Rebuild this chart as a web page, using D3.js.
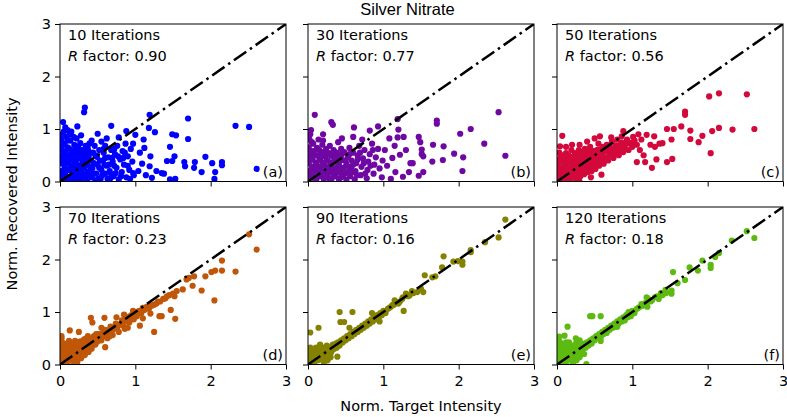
<!DOCTYPE html>
<html><head><meta charset="utf-8">
<script src="https://cdn.jsdelivr.net/npm/d3@7"></script>
<style>body{margin:0;background:#fff}svg{display:block}text{font-family:"DejaVu Sans",sans-serif;fill:#000}</style>
</head><body>
<svg id="chart" width="787" height="417"></svg>
<script>
const title = "Silver Nitrate";
const xLabel = "Norm. Target Intensity";
const yLabel = "Norm. Recovered Intensity";
const iterations = [10, 30, 50, 70, 90, 120];
const rFactors = ["0.90", "0.77", "0.56", "0.23", "0.16", "0.18"];
const panelTags = ["(a)", "(b)", "(c)", "(d)", "(e)", "(f)"];
const colors = ["#0000ff", "#6f08a3", "#d3083b", "#c05608", "#848200", "#5cba10"];
const ticks = [0, 1, 2, 3];

const pointsA = [[0.01,0.05],[0.02,0.2],[0.01,0.35],[0.02,0.5],[0.01,0.65],[0.02,0.8],[0.03,0.9],[0.04,0.72],
[0.06,0.02],[0.07,0.15],[0.06,0.28],[0.08,0.42],[0.07,0.57],[0.06,0.7],[0.09,0.85],
[0.11,0.06],[0.12,0.22],[0.11,0.35],[0.13,0.5],[0.12,0.63],[0.14,0.78],
[0.16,0.03],[0.17,0.14],[0.16,0.3],[0.18,0.44],[0.17,0.58],[0.19,0.7],
[0.21,0.08],[0.22,0.24],[0.21,0.38],[0.23,0.52],[0.24,0.66],[0.22,0.82],
[0.26,0.04],[0.27,0.17],[0.26,0.31],[0.28,0.46],[0.29,0.6],[0.27,0.73],
[0.31,0.1],[0.32,0.26],[0.31,0.4],[0.33,0.55],[0.34,0.68],
[0.36,0.03],[0.37,0.19],[0.36,0.33],[0.38,0.48],[0.37,0.62],[0.39,0.72],
[0.42,0.08],[0.43,0.25],[0.41,0.4],[0.44,0.55],[0.46,0.68],
[0.48,0.15],[0.5,0.32],[0.49,0.47],[0.52,0.6],[0.51,0.05],
[0.55,0.22],[0.57,0.4],[0.56,0.12],[0.58,0.55],[0.6,0.68],
[0.62,0.3],[0.63,0.05],[0.64,0.46],[0.66,0.2],[0.68,0.6],
[0.7,0.38],[0.71,0.1],[0.73,0.52],[0.75,0.26],[0.76,0.68],
[0.78,0.04],[0.8,0.42],[0.82,0.18],[0.83,0.58],[0.85,0.32],
[0.87,0.72],[0.88,0.08],[0.9,0.48],[0.92,0.22],[0.94,0.62],[0.96,0.38],[0.98,0.12],
[0.04,1.13],[0.07,1.03],[0.15,0.95],[0.23,1.05],[0.33,1.41],[0.32,1.32],[0.5,0.91],[0.68,1.06],[0.88,0.96],[0.1,0.98],[0.28,0.88],[0.42,0.78],[0.62,0.82],[0.78,0.84],[0.55,0.76],
[1.0,0.89],[0.97,0.72],[0.97,0.16],[1.11,0.8],[1.12,0.64],[1.18,1.02],[1.19,1.27],[1.26,0.94],[1.2,0.48],[1.09,0.34],[1.19,0.29],[1.28,0.2],[1.35,0.16],[1.38,0.15],[1.22,0.07],[1.46,0.04],[1.53,0.05],[1.49,0.9],[1.54,0.88],[1.46,0.66],[1.52,0.48],[1.42,0.39],[1.49,0.39],[1.65,0.37],[1.66,0.29],[1.79,0.37],[1.78,0.26],[1.93,0.47],[1.88,0.18],[2.02,0.35],[2.06,0.18],[2.05,0.05],[2.15,0.37],[2.15,0.31],[1.7,1.2],[1.7,0.81],[2.33,1.06],[2.51,1.04],[2.61,0.24],[1.06,0.55],[1.04,0.2],[1.14,0.12],
[0.03,0.12],[0.03,0.42],[0.04,0.58],[0.05,0.08],[0.05,0.35],[0.09,0.22],[0.09,0.5],[0.1,0.65],[0.1,0.78],[0.14,0.1],[0.14,0.28],[0.15,0.42],[0.15,0.56],[0.19,0.2],[0.19,0.36],[0.2,0.5],[0.2,0.62],[0.24,0.12],[0.24,0.3],[0.25,0.44],[0.25,0.58],[0.29,0.06],[0.29,0.22],[0.3,0.36],[0.3,0.5],[0.34,0.14],[0.34,0.32],[0.35,0.45],[0.35,0.6],[0.39,0.1],[0.4,0.28],[0.4,0.55],[0.44,0.15],[0.45,0.35],[0.47,0.5],[0.53,0.4],[0.54,0.05],[0.6,0.15],[0.6,0.45],[0.65,0.32],[0.67,0.06],[0.72,0.62],[0.74,0.16],[0.77,0.48],[0.86,0.55],[0.9,0.3],[0.1,0.44],[0.22,0.02],[0.05,0.95],[0.18,0.85],[0.13,0.9],
[0.47,0.02],[0.52,0.26],[0.59,0.32],[0.69,0.45],[0.72,0.3],[0.81,0.1],[0.84,0.45],[0.93,0.05],[0.68,0.14],[0.58,0.62]];

const pointsB = [[0.01,0.05],[0.02,0.2],[0.01,0.35],[0.02,0.5],[0.01,0.65],[0.02,0.8],[0.03,0.9],
[0.06,0.1],[0.07,0.27],[0.06,0.42],[0.08,0.58],[0.07,0.72],
[0.11,0.03],[0.12,0.18],[0.11,0.34],[0.13,0.5],[0.12,0.64],[0.14,0.8],
[0.16,0.1],[0.17,0.26],[0.16,0.42],[0.18,0.56],[0.19,0.7],
[0.21,0.04],[0.22,0.18],[0.21,0.32],[0.23,0.47],[0.24,0.62],
[0.26,0.1],[0.27,0.25],[0.26,0.4],[0.28,0.54],[0.29,0.68],
[0.31,0.03],[0.32,0.17],[0.31,0.32],[0.33,0.47],[0.34,0.6],
[0.36,0.1],[0.37,0.25],[0.36,0.4],[0.38,0.55],
[0.41,0.04],[0.42,0.18],[0.41,0.33],[0.43,0.48],[0.44,0.62],
[0.46,0.1],[0.47,0.26],[0.46,0.41],[0.48,0.56],
[0.51,0.03],[0.52,0.18],[0.51,0.33],[0.53,0.47],[0.55,0.64],
[0.56,0.1],[0.57,0.26],[0.58,0.4],[0.6,0.55],
[0.62,0.04],[0.63,0.2],[0.64,0.35],[0.66,0.5],[0.68,0.68],
[0.7,0.12],[0.71,0.28],[0.73,0.44],[0.75,0.6],
[0.78,0.06],[0.79,0.22],[0.8,0.38],[0.82,0.52],[0.85,0.72],
[0.87,0.15],[0.88,0.32],[0.9,0.46],[0.93,0.62],[0.95,0.25],[0.98,0.08],[0.99,0.4],
[0.09,1.27],[0.31,1.13],[0.33,1.08],[0.61,1.03],[0.82,0.97],[0.93,1.05],[1.19,1.19],[0.04,0.98],[0.2,0.9],[0.45,0.82],[0.6,0.85],[0.72,0.8],[0.4,0.75],
[1.02,0.6],[1.05,0.3],[1.08,0.82],[1.12,0.45],[1.16,0.18],[1.19,0.84],[1.2,0.99],[1.22,0.51],[1.26,0.09],[1.27,0.85],[1.34,0.18],[1.36,0.35],[1.39,0.35],[1.47,0.11],[1.47,0.85],[1.49,0.75],[1.51,0.61],[1.51,0.52],[1.53,0.48],[1.53,0.18],[1.65,0.38],[1.66,0.7],[1.71,1.16],[1.71,1.1],[1.79,0.41],[1.8,0.67],[1.94,0.53],[2.02,0.91],[2.05,0.2],[2.06,0.46],[2.16,1.0],[2.34,0.72],[2.53,1.32],[2.62,0.49],[1.1,0.05],[1.3,0.6],[1.15,0.68],
[0.03,0.12],[0.03,0.42],[0.04,0.58],[0.05,0.28],[0.05,0.75],[0.09,0.05],[0.09,0.2],[0.09,0.5],[0.1,0.36],[0.14,0.1],[0.14,0.28],[0.15,0.45],[0.15,0.6],[0.19,0.18],[0.19,0.36],[0.2,0.5],[0.2,0.78],[0.24,0.1],[0.24,0.28],[0.25,0.4],[0.25,0.55],[0.29,0.04],[0.29,0.18],[0.3,0.36],[0.3,0.5],[0.34,0.1],[0.34,0.25],[0.35,0.38],[0.35,0.52],[0.39,0.17],[0.4,0.3],[0.4,0.45],[0.44,0.08],[0.45,0.24],[0.45,0.52],[0.49,0.15],[0.5,0.4],[0.54,0.28],[0.55,0.52],[0.59,0.18],[0.6,0.32],[0.65,0.12],[0.66,0.42],[0.69,0.55],[0.74,0.35],[0.76,0.15],[0.83,0.3],[0.86,0.6]];

const pointsC = [[0.01,0.05],[0.02,0.18],[0.01,0.3],[0.02,0.42],[0.03,0.55],[0.04,0.67],[0.07,0.87],
[0.06,0.02],[0.07,0.12],[0.06,0.25],[0.08,0.37],[0.07,0.5],
[0.11,0.06],[0.12,0.18],[0.11,0.3],[0.13,0.42],[0.12,0.54],
[0.16,0.02],[0.17,0.12],[0.16,0.24],[0.18,0.36],[0.17,0.48],[0.19,0.6],
[0.21,0.07],[0.22,0.18],[0.21,0.3],[0.23,0.42],[0.24,0.54],
[0.26,0.05],[0.27,0.14],[0.26,0.26],[0.28,0.37],[0.27,0.49],[0.29,0.6],
[0.31,0.1],[0.32,0.22],[0.31,0.33],[0.33,0.45],[0.34,0.56],
[0.36,0.14],[0.37,0.26],[0.36,0.38],[0.38,0.5],[0.37,0.62],
[0.41,0.18],[0.42,0.3],[0.41,0.42],[0.43,0.54],[0.44,0.66],
[0.46,0.2],[0.47,0.34],[0.46,0.46],[0.48,0.58],
[0.51,0.24],[0.52,0.36],[0.51,0.48],[0.53,0.6],[0.55,0.72],
[0.56,0.3],[0.57,0.42],[0.58,0.54],[0.6,0.66],
[0.62,0.34],[0.63,0.46],[0.64,0.58],[0.66,0.7],
[0.68,0.4],[0.7,0.52],[0.71,0.64],[0.73,0.76],
[0.75,0.45],[0.76,0.57],[0.78,0.69],[0.8,0.8],
[0.82,0.5],[0.84,0.62],[0.86,0.74],[0.88,0.56],[0.9,0.68],[0.93,0.8],[0.95,0.6],[0.97,0.72],[1.0,0.66],[1.03,0.78],[1.06,0.7],[0.86,0.86],[0.59,0.13],[0.3,0.0],[0.45,0.08],
[0.57,0.86],[0.88,0.96],[0.72,0.84],[0.2,0.7],[0.4,0.76],[0.3,0.7],[0.12,0.66],[0.5,0.82],
[1.01,0.85],[1.06,0.37],[1.12,0.8],[1.17,0.37],[1.19,0.89],[1.24,0.7],[1.26,0.26],[1.29,0.86],[1.32,0.42],[1.36,0.72],[1.4,0.73],[1.46,0.37],[1.46,1.0],[1.55,1.0],[1.52,0.8],[1.53,0.43],[1.65,1.05],[1.7,1.33],[1.7,1.27],[1.77,0.97],[1.77,0.81],[1.88,0.75],[1.93,0.87],[2.02,1.62],[2.04,0.54],[2.06,0.96],[2.15,1.02],[2.15,1.68],[2.33,0.99],[2.52,1.66],[2.62,1.0],[1.1,0.6],[1.15,0.5],[1.3,0.66],[1.08,0.9],
[0.03,0.1],[0.03,0.25],[0.04,0.38],[0.05,0.48],[0.09,0.08],[0.09,0.2],[0.09,0.32],[0.1,0.44],[0.14,0.12],[0.14,0.25],[0.15,0.36],[0.15,0.5],[0.19,0.08],[0.19,0.2],[0.2,0.33],[0.2,0.46],[0.24,0.12],[0.24,0.24],[0.25,0.36],[0.25,0.48],[0.29,0.18],[0.29,0.3],[0.3,0.42],[0.3,0.54],[0.34,0.2],[0.34,0.32],[0.35,0.45],[0.39,0.22],[0.39,0.35],[0.4,0.48],[0.4,0.58],[0.44,0.26],[0.44,0.38],[0.45,0.5],[0.49,0.3],[0.49,0.42],[0.5,0.55],[0.54,0.35],[0.54,0.48],[0.55,0.6],[0.6,0.38],[0.6,0.5],[0.61,0.62],[0.66,0.46],[0.66,0.58],[0.72,0.5],[0.72,0.6],[0.77,0.52],[0.78,0.62],[0.83,0.58],[0.84,0.7],[0.9,0.62],[0.92,0.74],[1.0,0.74],[0.69,0.68]];

const pointsD = [[0.01,0.02],[0.02,0.12],[0.01,0.24],[0.03,0.35],[0.02,0.5],[0.04,0.06],[0.05,0.2],
[0.07,0.03],[0.08,0.14],[0.07,0.28],[0.09,0.4],
[0.11,0.06],[0.12,0.18],[0.13,0.3],[0.12,0.45],
[0.15,0.1],[0.16,0.22],[0.17,0.34],[0.18,0.0],
[0.2,0.14],[0.21,0.26],[0.22,0.38],[0.23,0.05],
[0.25,0.2],[0.26,0.32],[0.27,0.44],[0.28,0.12],
[0.3,0.24],[0.31,0.36],[0.32,0.48],[0.33,0.18],
[0.35,0.3],[0.36,0.42],[0.37,0.54],[0.38,0.24],
[0.4,0.36],[0.41,0.48],[0.42,0.3],[0.44,0.42],[0.45,0.54],
[0.47,0.38],[0.48,0.5],[0.5,0.44],[0.51,0.58],[0.53,0.5],
[0.55,0.46],[0.56,0.6],[0.58,0.54],[0.6,0.66],[0.62,0.58],
[0.63,0.5],[0.65,0.62],[0.67,0.72],[0.69,0.64],[0.7,0.56],
[0.72,0.68],[0.74,0.78],[0.76,0.7],[0.78,0.62],[0.8,0.76],
[0.82,0.84],[0.84,0.74],[0.86,0.68],[0.88,0.82],[0.9,0.9],
[0.92,0.8],[0.94,0.88],[0.96,0.96],[0.98,0.86],[1.0,1.0],[1.02,0.92],[1.05,1.02],[1.08,0.98],[1.12,1.04],[1.15,1.1],[0.85,0.95],[0.55,0.7],[0.75,0.9],
[0.02,0.54],[0.13,0.65],[0.41,0.89],[0.43,0.8],[0.59,0.89],[0.6,0.33],[0.25,0.62],[1.06,0.74],[1.1,0.88],[1.2,0.97],[1.25,1.14],[1.25,0.62],[1.3,1.2],[1.32,0.92],[1.35,0.92],[1.37,1.25],[1.42,1.3],[1.47,1.04],[1.5,1.35],[1.53,0.87],[1.52,1.3],[1.55,1.4],[1.63,1.43],[1.71,1.65],[1.68,1.62],[1.76,1.5],[1.78,1.68],[1.88,1.41],[1.93,1.68],[2.01,1.76],[2.05,1.22],[2.06,1.79],[2.15,1.79],[2.15,1.98],[2.33,1.77],[2.51,2.48],[2.61,2.19],[0.2,0.45],[0.9,0.7],
[0.03,0.2],[0.04,0.3],[0.03,0.42],[0.06,0.12],[0.06,0.36],[0.09,0.08],[0.1,0.2],[0.1,0.32],[0.14,0.16],[0.14,0.26],[0.14,0.38],[0.18,0.2],[0.18,0.3],[0.19,0.1],[0.23,0.22],[0.24,0.32],[0.29,0.3],[0.29,0.4],[0.34,0.36],[0.34,0.26],[0.39,0.4],[0.43,0.36],[0.46,0.46],[0.52,0.52],[0.57,0.56],[0.61,0.62],[0.66,0.66],[0.71,0.7],[0.77,0.76],[0.83,0.8],[0.87,0.88],[0.93,0.92],[0.97,1.02],[1.03,0.98],[1.1,1.08],[0.35,0.5],[0.48,0.58],[0.66,0.54],
[1.18,1.06],[1.22,1.12],[1.28,1.16],[1.33,1.2],[1.4,1.26],[1.45,1.32]];

const pointsE = [[0.01,0.03],[0.02,0.12],[0.01,0.22],[0.03,0.32],[0.04,0.06],[0.05,0.18],[0.06,0.28],
[0.08,0.02],[0.09,0.12],[0.1,0.22],[0.11,0.32],
[0.13,0.08],[0.14,0.18],[0.15,0.28],[0.16,0.38],
[0.18,0.12],[0.19,0.22],[0.2,0.32],[0.21,0.04],
[0.23,0.16],[0.24,0.26],[0.25,0.36],[0.26,0.08],
[0.28,0.22],[0.29,0.32],[0.3,0.14],[0.32,0.28],[0.33,0.38],
[0.35,0.3],[0.37,0.4],[0.38,0.32],[0.4,0.42],[0.42,0.36],
[0.44,0.46],[0.46,0.42],[0.48,0.5],[0.5,0.46],[0.52,0.54],
[0.54,0.5],[0.56,0.58],[0.58,0.54],[0.6,0.62],[0.62,0.58],
[0.64,0.66],[0.66,0.62],[0.68,0.7],[0.7,0.66],[0.72,0.74],
[0.74,0.7],[0.76,0.78],[0.78,0.74],[0.8,0.82],[0.82,0.78],
[0.84,0.86],[0.86,0.82],[0.88,0.9],[0.9,0.86],[0.92,0.94],[0.94,0.9],[0.96,0.98],[0.98,0.94],[1.0,1.02],[1.03,0.98],[1.06,1.06],[1.1,1.1],[1.14,1.14],[1.18,1.18],[1.22,1.2],
[0.03,0.61],[0.14,0.7],[0.42,1.0],[0.59,1.0],[0.43,0.81],[0.48,0.81],[0.39,0.15],[0.55,0.7],[0.85,0.98],[1.27,1.02],[1.3,1.35],[1.35,1.32],[1.4,1.36],[1.45,1.38],[1.53,1.38],[1.5,1.44],[1.55,1.7],[1.65,1.66],[1.69,1.68],[1.78,1.85],[1.8,2.06],[1.93,1.96],[1.99,1.97],[2.05,1.96],[2.05,1.9],[2.16,2.14],[2.16,2.18],[2.35,2.33],[2.53,2.42],[2.62,2.76],[1.15,1.22],[1.25,1.25],[0.95,0.82],
[0.02,0.07],[0.02,0.17],[0.02,0.27],[0.04,0.14],[0.04,0.24],[0.07,0.08],[0.07,0.18],[0.07,0.3],[0.09,0.26],[0.12,0.14],[0.12,0.24],[0.16,0.1],[0.17,0.2],[0.17,0.3],[0.21,0.14],[0.22,0.24],[0.26,0.2],[0.27,0.3],[0.31,0.24],[0.34,0.34],[0.39,0.37],[0.43,0.42],[0.47,0.46],[0.51,0.5],[0.55,0.54],[0.59,0.58],[0.63,0.62],[0.67,0.66],[0.71,0.7],[0.75,0.74],[0.79,0.78],[0.83,0.82],[0.87,0.86],[0.91,0.9],[0.97,0.96],[1.02,1.0],[1.08,1.08],[1.12,1.13],[1.2,1.16],
[1.26,1.28],[1.33,1.3],[1.38,1.4]];

const pointsF = [[0.01,0.02],[0.02,0.12],[0.01,0.24],[0.03,0.36],[0.02,0.48],[0.04,0.06],[0.05,0.18],[0.06,0.3],
[0.08,0.02],[0.09,0.12],[0.1,0.24],[0.11,0.36],
[0.13,0.06],[0.14,0.18],[0.15,0.3],[0.16,0.42],
[0.18,0.1],[0.19,0.22],[0.2,0.34],[0.21,0.02],
[0.23,0.16],[0.24,0.28],[0.25,0.4],[0.26,0.08],
[0.28,0.22],[0.29,0.34],[0.3,0.14],[0.32,0.28],[0.33,0.4],
[0.35,0.3],[0.37,0.4],[0.38,0.32],[0.4,0.42],[0.42,0.36],
[0.44,0.46],[0.46,0.4],[0.48,0.5],[0.5,0.46],[0.52,0.54],
[0.54,0.5],[0.56,0.58],[0.58,0.52],[0.6,0.62],[0.62,0.58],
[0.64,0.66],[0.66,0.6],[0.68,0.7],[0.7,0.66],[0.72,0.74],
[0.74,0.7],[0.76,0.78],[0.78,0.72],[0.8,0.82],[0.82,0.78],
[0.84,0.86],[0.86,0.82],[0.88,0.9],[0.9,0.84],[0.92,0.94],[0.94,0.9],[0.96,0.98],[0.98,0.92],[1.0,1.02],[1.03,0.98],[1.06,1.06],[1.1,1.1],[1.14,1.12],[1.18,1.18],[1.22,1.24],[1.26,1.22],[1.3,1.28],
[0.03,0.53],[0.14,0.72],[0.44,0.92],[0.47,0.92],[0.58,0.92],[0.39,0.01],[0.1,0.55],[0.58,0.45],[0.8,0.72],[0.95,1.0],[1.19,1.28],[1.2,1.1],[1.35,1.25],[1.4,1.32],[1.45,1.36],[1.52,1.41],[1.52,1.35],[1.54,1.76],[1.6,1.55],[1.7,1.61],[1.76,1.85],[1.87,1.79],[1.93,1.98],[2.04,1.9],[2.04,1.84],[2.1,2.05],[2.15,2.12],[2.32,2.36],[2.52,2.54],[2.62,2.41],
[0.02,0.07],[0.02,0.18],[0.02,0.3],[0.04,0.12],[0.04,0.24],[0.04,0.42],[0.07,0.08],[0.07,0.2],[0.07,0.36],[0.09,0.3],[0.12,0.12],[0.12,0.24],[0.12,0.42],[0.16,0.14],[0.17,0.24],[0.17,0.36],[0.21,0.12],[0.22,0.24],[0.22,0.36],[0.26,0.2],[0.27,0.3],[0.31,0.22],[0.34,0.34],[0.39,0.37],[0.43,0.42],[0.47,0.46],[0.51,0.5],[0.55,0.54],[0.59,0.58],[0.63,0.62],[0.67,0.66],[0.71,0.7],[0.75,0.74],[0.79,0.78],[0.83,0.82],[0.87,0.86],[0.91,0.9],[0.97,0.96],[1.02,1.0],[1.08,1.08],[1.12,1.15],[1.24,1.2],[0.3,0.46],[0.36,0.2],[0.25,0.5],
[1.33,1.3],[1.38,1.36],[1.44,1.42]];

const allPoints = [pointsA, pointsB, pointsC, pointsD, pointsE, pointsF];
const diagonal = [[0, 0], [3, 3]];

const svg = d3.select("#chart");
const colLeft = [60, 308, 557];
const rowTop = [24, 207];
const pw = 226, ph = 157.5;
const fs = "14.5px";

const defs = svg.append("defs");

allPoints.forEach((pts, i) => {
  const col = i % 3, row = Math.floor(i / 3);
  const x0 = colLeft[col], y0 = rowTop[row];
  const x = d3.scaleLinear().domain([0, 3]).range([0, pw]);
  const y = d3.scaleLinear().domain([0, 3]).range([ph, 0]);
  const g = svg.append("g").attr("transform", `translate(${x0},${y0})`);
  defs.append("clipPath").attr("id", "clip" + i)
    .append("rect").attr("width", pw).attr("height", ph);
  const plot = g.append("g").attr("clip-path", `url(#clip${i})`);
  plot.selectAll("circle").data(pts).join("circle")
    .attr("cx", d => x(d[0])).attr("cy", d => y(d[1])).attr("r", 3.1)
    .attr("fill", colors[i]);
  plot.append("path").datum(diagonal)
    .attr("d", d3.line().x(d => x(d[0])).y(d => y(d[1])))
    .attr("fill", "none").attr("stroke", "#000").attr("stroke-width", 2.5)
    .attr("stroke-dasharray", "15,4.5,2.5,4.5");

  const xa = d3.axisBottom(x).tickValues(ticks).tickSize(5).tickPadding(4)
    .tickFormat(row === 1 ? d3.format("d") : () => "");
  const ya = d3.axisLeft(y).tickValues(ticks).tickSize(5).tickPadding(4)
    .tickFormat(col === 0 ? d3.format("d") : () => "");
  const gx = g.append("g").attr("transform", `translate(0,${ph})`).call(xa);
  const gy = g.append("g").call(ya);
  [gx, gy].forEach(a => {
    a.select(".domain").remove();
    a.selectAll("line").attr("stroke", "#000").attr("stroke-width", 1);
    a.selectAll("text").style("font-family", "DejaVu Sans").style("font-size", fs).attr("fill", "#000");
  });
  gx.selectAll("text").attr("dy", "0.85em");
  g.append("rect").attr("width", pw).attr("height", ph)
    .attr("fill", "none").attr("stroke", "#000").attr("stroke-width", 1);

  g.append("text").attr("x", 8).attr("y", 16).style("font-size", fs)
    .text(iterations[i] + " Iterations");
  const rt = g.append("text").attr("x", 8).attr("y", 37).style("font-size", fs);
  rt.append("tspan").style("font-style", "italic").text("R");
  rt.append("tspan").text(" factor: " + rFactors[i]);
  g.append("text").attr("x", pw - 3).attr("y", ph - 5).attr("text-anchor", "end")
    .style("font-size", fs).text(panelTags[i]);
});

svg.append("text").attr("x", 407.5).attr("y", 15).attr("text-anchor", "middle")
  .style("font-family", "Liberation Sans, Arial, sans-serif").style("font-size", "16.5px").text(title);
svg.append("text").attr("x", 421).attr("y", 411).attr("text-anchor", "middle")
  .style("font-size", fs).text(xLabel);
svg.append("text").attr("transform", "translate(17,194) rotate(-90)").attr("text-anchor", "middle")
  .style("font-size", fs).text(yLabel);
</script>
</body></html>
